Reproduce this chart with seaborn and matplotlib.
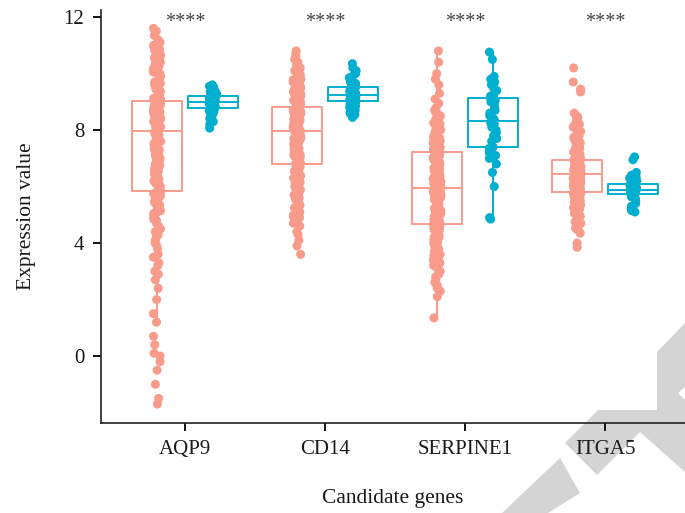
import numpy as np
import pandas as pd
import matplotlib
matplotlib.use("Agg")
import matplotlib.pyplot as plt
from matplotlib.patches import Polygon
import seaborn as sns

genes = ["AQP9", "CD14", "SERPINE1", "ITGA5"]
groups = ["Case", "Control"]
colors = ["#F99B8B", "#00AECF"]
sig_labels = ["****", "****", "****", "****"]

aqp9_case = [-1.7, -1.5, -1.0, -0.5, -0.2, 0.0, 0.1, 0.4, 0.7, 1.2, 1.5, 2.0, 2.4, 2.7, 2.9,
             3.2, 3.5, 3.8, 4.0, 4.2, 4.4, 4.6, 4.8, 4.9, 5.1, 5.2, 5.4, 5.5, 5.6, 5.7,
             5.85, 5.9, 6.0, 6.05, 6.1, 6.2, 6.3, 6.35, 6.4, 6.5, 6.6, 6.65, 6.7, 6.8, 6.9,
             6.95, 7.0, 7.1, 7.2, 7.25, 7.3, 7.4, 7.45, 7.5, 7.6, 7.65, 7.7, 7.8, 7.85, 7.9,
             8.0, 8.05, 8.1, 8.15, 8.2, 8.25, 8.3, 8.35, 8.4, 8.45, 8.5, 8.5, 8.55, 8.6, 8.6,
             8.65, 8.7, 8.7, 8.75, 8.8, 8.8, 8.85, 8.85, 8.9, 8.9, 8.95, 8.95, 8.98, 8.99, 9.0,
             9.05, 9.1, 9.15, 9.2, 9.3, 9.35, 9.4, 9.5, 9.55, 9.6, 9.7, 9.8, 9.85, 9.9, 10.0,
             10.1, 10.2, 10.3, 10.4, 10.5, 10.6, 10.7, 10.8, 10.9, 11.0, 11.1, 11.2, 11.35, 11.5, 11.6,
             3.0, 3.3, 3.6, 3.9, 4.1, 4.3, 4.5, 4.7, 4.85, 4.95, 5.05, 5.15, 5.25, 5.35, 5.45,
             5.5, 5.6, 5.65, 5.7, 5.75, 5.95, 6.15, 6.25, 6.45, 6.55, 6.75, 6.85, 7.05, 7.15, 7.35,
             7.55, 7.75, 6.0, 6.6, 7.0, 7.3, 7.6, 7.8, 7.92, 7.88, 8.02, 8.12, 8.22, 8.32, 8.42,
             8.52, 8.62, 8.72, 8.82, 8.92, 8.08, 8.18, 8.28, 8.38, 8.48, 8.58, 8.68, 8.78, 8.88, 8.97,
             9.08, 9.25, 9.45, 9.65, 9.75, 9.95, 10.05, 10.15, 10.25, 10.35, 10.45, 10.55, 10.65, 10.75, 10.85,
             10.95, 11.05, 9.12, 9.38, 9.58]
aqp9_ctrl = [8.07, 8.2, 8.3, 8.4, 8.5, 8.55, 8.6, 8.65, 8.7, 8.72, 8.75, 8.78, 8.8, 8.82, 8.85,
             8.88, 8.9, 8.92, 8.95, 8.97, 9.0, 9.0, 9.02, 9.04, 9.06, 9.08, 9.1, 9.12, 9.14, 9.16,
             9.18, 9.2, 9.2, 9.22, 9.25, 9.28, 9.3, 9.33, 9.36, 9.4, 9.45, 9.5, 9.55, 9.6,
             8.68, 8.84, 8.94, 9.01, 9.11, 9.24]
cd14_case = [3.6, 3.9, 4.1, 4.3, 4.4, 4.6, 4.8, 4.9, 5.0, 5.1, 5.2, 5.3, 5.4, 5.5, 5.6,
             5.7, 5.8, 5.85, 5.9, 6.0, 6.1, 6.15, 6.2, 6.3, 6.35, 6.4, 6.5, 6.6, 6.65, 6.75,
             6.8, 6.85, 6.9, 6.95, 7.0, 7.05, 7.1, 7.15, 7.2, 7.25, 7.3, 7.35, 7.4, 7.45, 7.5,
             7.5, 7.55, 7.6, 7.6, 7.65, 7.7, 7.7, 7.75, 7.8, 7.8, 7.85, 7.85, 7.9, 7.9, 7.95,
             7.95, 8.0, 8.0, 8.05, 8.1, 8.1, 8.15, 8.2, 8.2, 8.25, 8.3, 8.3, 8.35, 8.4, 8.4,
             8.45, 8.5, 8.5, 8.55, 8.55, 8.6, 8.6, 8.65, 8.65, 8.7, 8.7, 8.72, 8.75, 8.78, 8.8,
             8.85, 8.9, 8.95, 9.0, 9.05, 9.1, 9.15, 9.2, 9.25, 9.3, 9.35, 9.4, 9.45, 9.5, 9.55,
             9.6, 9.65, 9.7, 9.75, 9.8, 9.9, 10.0, 10.1, 10.2, 10.3, 10.4, 10.5, 10.6, 10.7, 10.8,
             4.7, 5.05, 5.25, 5.45, 5.65, 5.75, 5.95, 6.05, 6.25, 6.45, 6.55, 6.7, 4.95, 5.35, 5.55,
             6.12, 6.38, 6.58, 6.72, 6.78, 6.82, 6.92, 7.02, 7.12, 7.22, 7.32, 7.42, 7.52, 7.62, 7.72,
             7.82, 7.92, 6.88, 7.08, 7.28, 7.48, 7.68, 7.88, 7.58, 7.78, 7.98, 8.03, 8.08, 8.13, 8.18,
             8.23, 8.28, 8.33, 8.38, 8.43, 8.48, 8.53, 8.58, 8.63, 8.68, 8.73, 8.76, 8.79, 8.22, 8.44,
             8.82, 8.88, 8.92, 8.98, 9.02, 9.08, 9.12, 9.18, 9.22, 9.28, 9.32, 9.38, 9.42, 9.48, 9.58,
             9.68, 9.78, 9.85, 9.95, 10.05]
cd14_ctrl = [8.45, 8.5, 8.55, 8.6, 8.7, 8.75, 8.8, 8.85, 8.9, 8.93, 8.96, 9.0, 9.02, 9.05, 9.08,
             9.1, 9.12, 9.14, 9.16, 9.18, 9.2, 9.22, 9.24, 9.27, 9.3, 9.32, 9.35, 9.38, 9.4, 9.43,
             9.46, 9.5, 9.55, 9.6, 9.65, 9.7, 9.75, 9.8, 9.85, 9.9, 10.0, 10.1, 10.2, 10.35,
             9.04, 9.13, 9.21, 9.29, 9.36, 9.52]
serpine1_case = [1.35, 2.1, 2.3, 2.5, 2.7, 2.9, 3.0, 3.1, 3.2, 3.3, 3.4, 3.5, 3.6, 3.7, 3.75,
                 3.8, 3.9, 3.95, 4.0, 4.05, 4.1, 4.15, 4.2, 4.25, 4.3, 4.4, 4.45, 4.5, 4.55, 4.65,
                 4.7, 4.75, 4.8, 4.85, 4.9, 4.95, 5.0, 5.05, 5.1, 5.15, 5.2, 5.25, 5.3, 5.35, 5.4,
                 5.45, 5.5, 5.55, 5.6, 5.65, 5.7, 5.72, 5.75, 5.78, 5.8, 5.83, 5.86, 5.89, 5.92, 5.95,
                 5.95, 6.0, 6.05, 6.1, 6.15, 6.2, 6.25, 6.3, 6.35, 6.4, 6.45, 6.5, 6.55, 6.6, 6.65,
                 6.7, 6.75, 6.8, 6.85, 6.9, 6.93, 6.96, 7.0, 7.03, 7.06, 7.09, 7.12, 7.15, 7.18, 7.22,
                 7.3, 7.35, 7.4, 7.45, 7.5, 7.55, 7.6, 7.65, 7.7, 7.75, 7.8, 7.85, 7.9, 7.95, 8.0,
                 8.1, 8.2, 8.3, 8.4, 8.5, 8.6, 8.7, 8.95, 9.1, 9.3, 9.6, 9.8, 10.0, 10.4, 10.8,
                 2.4, 2.6, 2.8, 3.05, 3.15, 3.25, 3.35, 3.45, 3.55, 3.65, 3.85, 4.02, 4.12, 4.22, 4.32,
                 4.38, 4.48, 4.52, 4.6, 4.63, 4.72, 4.78, 4.82, 4.88, 4.92, 4.98, 5.02, 5.08, 5.12, 5.18,
                 5.22, 5.28, 5.38, 5.48, 5.58, 5.68, 5.76, 5.84, 5.9, 5.93, 5.98, 6.08, 6.18, 6.28, 6.38,
                 6.48, 6.58, 6.68, 6.78, 6.88, 6.98, 7.08, 7.16, 7.2, 6.02, 6.22, 6.42, 6.62, 6.82, 7.02,
                 7.25, 7.32, 7.38, 7.42, 7.48, 7.52, 7.58, 7.62, 7.68, 7.72, 7.78, 7.82, 7.88, 7.92, 8.05,
                 8.15, 8.25, 8.45, 8.65, 8.8]
serpine1_ctrl = [4.85, 4.9, 6.0, 6.5, 6.8, 7.0, 7.1, 7.2, 7.3, 7.35, 7.4, 7.42, 7.6, 7.7, 7.8,
                 7.9, 8.0, 8.1, 8.2, 8.25, 8.3, 8.35, 8.4, 8.5, 8.6, 8.7, 8.8, 8.9, 9.0, 9.05,
                 9.1, 9.15, 9.2, 9.3, 9.4, 9.5, 9.6, 9.7, 9.8, 9.9, 10.5, 10.76]
itga5_case = [3.85, 4.0, 4.35, 4.45, 4.55, 4.65, 4.75, 4.85, 4.9, 5.0, 5.05, 5.1, 5.15, 5.2, 5.25,
              5.3, 5.35, 5.4, 5.45, 5.5, 5.53, 5.56, 5.6, 5.63, 5.66, 5.69, 5.72, 5.74, 5.77, 5.79,
              5.8, 5.82, 5.84, 5.86, 5.88, 5.9, 5.92, 5.95, 5.98, 6.0, 6.03, 6.06, 6.09, 6.12, 6.15,
              6.18, 6.2, 6.22, 6.25, 6.27, 6.3, 6.32, 6.34, 6.36, 6.38, 6.4, 6.41, 6.42, 6.43, 6.44,
              6.45, 6.47, 6.49, 6.5, 6.52, 6.54, 6.56, 6.58, 6.6, 6.62, 6.64, 6.66, 6.68, 6.7, 6.72,
              6.74, 6.76, 6.78, 6.8, 6.82, 6.84, 6.85, 6.86, 6.87, 6.88, 6.89, 6.9, 6.91, 6.92, 6.94,
              6.97, 7.0, 7.05, 7.1, 7.15, 7.2, 7.25, 7.3, 7.35, 7.4, 7.45, 7.5, 7.55, 7.6, 7.7,
              7.75, 7.8, 7.9, 8.0, 8.05, 8.1, 8.2, 8.3, 8.4, 8.5, 8.6, 9.35, 9.45, 9.7, 10.2,
              4.5, 4.7, 4.8, 4.95, 5.02, 5.12, 5.22, 5.32, 5.42, 5.48, 5.52, 5.58, 5.62, 5.65, 5.68,
              5.7, 5.73, 5.76, 5.78, 5.795, 5.81, 5.83, 5.85, 5.87, 5.89, 5.91, 5.94, 5.97, 6.01, 6.04,
              6.08, 6.11, 6.14, 6.17, 6.21, 6.24, 6.28, 6.33, 6.37, 6.42, 6.46, 6.48, 6.51, 6.53, 6.55,
              6.57, 6.59, 6.61, 6.63, 6.65, 6.67, 6.69, 6.71, 6.73, 6.75, 6.77, 6.79, 6.81, 6.83, 6.93,
              6.98, 7.02, 7.08, 7.12, 7.18, 7.22, 7.28, 7.32, 7.38, 7.42, 7.48, 7.52, 7.58, 7.65, 7.72,
              7.85, 7.95, 8.15, 8.25, 8.45]
itga5_ctrl = [5.1, 5.15, 5.2, 5.3, 5.4, 5.5, 5.58, 5.64, 5.68, 5.7, 5.72, 5.74, 5.76, 5.78, 5.8,
              5.82, 5.84, 5.85, 5.86, 5.87, 5.88, 5.89, 5.9, 5.91, 5.92, 5.94, 5.96, 5.98, 6.0, 6.02,
              6.05, 6.08, 6.1, 6.12, 6.15, 6.2, 6.25, 6.3, 6.35, 6.4, 6.5, 6.95, 7.05]

series = {
    ("AQP9", "Case"): aqp9_case, ("AQP9", "Control"): aqp9_ctrl,
    ("CD14", "Case"): cd14_case, ("CD14", "Control"): cd14_ctrl,
    ("SERPINE1", "Case"): serpine1_case, ("SERPINE1", "Control"): serpine1_ctrl,
    ("ITGA5", "Case"): itga5_case, ("ITGA5", "Control"): itga5_ctrl,
}
rows = []
for (g, grp), vals in series.items():
    for v in vals:
        rows.append({"gene": g, "group": grp, "value": v})
df = pd.DataFrame(rows)

sns.set_style("white")
plt.rcParams["font.family"] = ["Liberation Serif", "DejaVu Serif"]

fig = plt.figure(figsize=(6.85, 5.13), dpi=100)
W, H = 685, 513

# journal watermark (background)
def fp(pts):
    return [(x / W, 1 - y / H) for x, y in pts]
wm = "#D4D4D4"
fig.patches.append(Polygon(fp([(502, 513), (560, 458), (580, 493), (548, 513)]),
                           closed=True, transform=fig.transFigure, facecolor=wm,
                           edgecolor="none", zorder=-5))
fig.patches.append(Polygon(fp([(565, 443), (598, 410), (657, 410), (657, 352), (685, 323),
                               (685, 387), (678, 393), (685, 400), (685, 472), (640, 432),
                               (597, 475)]),
                           closed=True, transform=fig.transFigure, facecolor=wm,
                           edgecolor="none", zorder=-5))

ax = fig.add_axes([101 / W, 1 - 423 / H, (W - 101) / W, (423 - 10) / H])
ax.set_facecolor("none")
ax.set_zorder(1)

sns.boxplot(data=df, x="gene", y="value", hue="group", order=genes, hue_order=groups,
            palette=colors, fill=False, gap=0.1, width=0.8, showfliers=False,
            showcaps=False, linewidth=1.4, legend=False, ax=ax)
np.random.seed(3)
sns.stripplot(data=df, x="gene", y="value", hue="group", order=genes, hue_order=groups,
              palette=colors, dodge=True, jitter=0.055, size=6.5, linewidth=0,
              alpha=1.0, legend=False, ax=ax)

ax.set_xlim(-0.6, 3.571)
ax.set_ylim(-2.37, 12.25)
ax.set_yticks([0, 4, 8, 12])
ax.set_yticklabels(["0", "4", "8", "12"])
for i, s in enumerate(sig_labels):
    ax.text(i, 11.82, s, ha="center", va="center", fontsize=14.5, color="#444444")

for side in ["top", "right"]:
    ax.spines[side].set_visible(False)
for side in ["left", "bottom"]:
    ax.spines[side].set_linewidth(1.2)
    ax.spines[side].set_color("#222222")
ax.tick_params(axis="both", direction="out", length=6, width=1.4, color="#111111",
               labelsize=15, labelcolor="#1a1a1a", pad=6, left=True, bottom=True)
ax.set_xlabel("Candidate genes", fontsize=15.5, color="#1a1a1a", labelpad=22)
ax.set_ylabel("Expression value", fontsize=15.5, color="#1a1a1a", labelpad=20)

fig.savefig("out.png", dpi=100)
